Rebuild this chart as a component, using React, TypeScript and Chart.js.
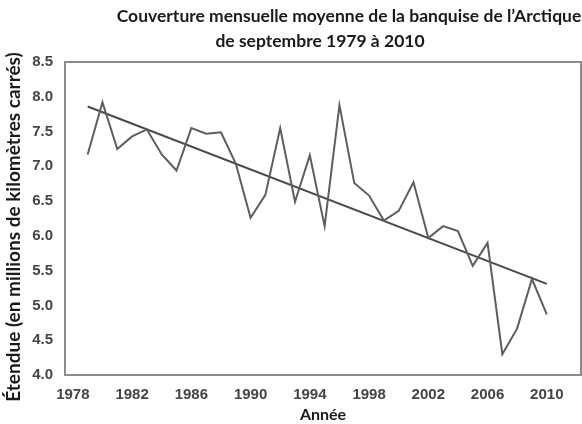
import React, { useEffect, useRef } from "react";
import { Chart, registerables } from "chart.js";

Chart.register(...registerables);

const years = [
  1979, 1980, 1981, 1982, 1983, 1984, 1985, 1986, 1987, 1988, 1989, 1990, 1991, 1992, 1993, 1994,
  1995, 1996, 1997, 1998, 1999, 2000, 2001, 2002, 2003, 2004, 2005, 2006, 2007, 2008, 2009, 2010,
];
const extent = [
  7.17, 7.92, 7.25, 7.43, 7.53, 7.17, 6.94, 7.55, 7.47, 7.49, 7.04, 6.26, 6.59, 7.55, 6.49, 7.16,
  6.14, 7.88, 6.76, 6.58, 6.22, 6.36, 6.77, 5.97, 6.14, 6.07, 5.57, 5.9, 4.3, 4.67, 5.38, 4.87,
];
const trendYears = [1979, 2010];
const trendValues = [7.86, 5.31];
const xTicks = [1978, 1982, 1986, 1990, 1994, 1998, 2002, 2006, 2010];
const yTicks = [4.0, 4.5, 5.0, 5.5, 6.0, 6.5, 7.0, 7.5, 8.0, 8.5];
const titleLines = ["Couverture mensuelle moyenne de la banquise de l\u2019Arctique", "de septembre 1979 \u00e0 2010"];
const xTitle = "Ann\u00e9e";
const yTitle = "\u00c9tendue (en millions de kilom\u00e8tres carr\u00e9s)";

const frameAndTitle = {
  id: "frameAndTitle",
  afterDraw(chart: any) {
    const { ctx, chartArea } = chart;
    ctx.save();
    ctx.strokeStyle = "#8c8c8c";
    ctx.lineWidth = 2;
    ctx.strokeRect(chartArea.left, chartArea.top, chartArea.right - chartArea.left, chartArea.bottom - chartArea.top);
    ctx.fillStyle = "#1a1a1a";
    ctx.font = "bold 17.5px Lato";
    ctx.textAlign = "center";
    ctx.textBaseline = "middle";
    ctx.fillText(titleLines[0], 349, 16);
    ctx.fillText(titleLines[1], 320, 41);
    // vertical axis title
    ctx.font = "bold 19px Lato";
    ctx.translate(14, 227);
    ctx.rotate(-Math.PI / 2);
    ctx.fillText(yTitle, 0, 0);
    ctx.restore();
  },
};

export default function App() {
  const ref = useRef<HTMLCanvasElement>(null);
  useEffect(() => {
    document.body.style.margin = "0";
    const chart = new Chart(ref.current!, {
      type: "line",
      data: {
        datasets: [
          {
            data: years.map((y, i) => ({ x: y, y: extent[i] })),
            borderColor: "#5e5e5e",
            borderWidth: 2,
            pointRadius: 0,
            tension: 0,
          },
          {
            data: trendYears.map((y, i) => ({ x: y, y: trendValues[i] })),
            borderColor: "#4a4a4a",
            borderWidth: 2,
            pointRadius: 0,
          },
        ],
      },
      options: {
        responsive: false,
        animation: false,
        layout: { padding: { top: 62, right: 1, left: 0, bottom: 0 } },
        plugins: { legend: { display: false }, tooltip: { enabled: false }, title: { display: false } },
        scales: {
          x: {
            type: "linear",
            min: 1977.47,
            max: 2012.31,
            grid: { display: false, drawTicks: false, tickLength: 0 },
            border: { display: false },
            afterBuildTicks: (s: any) => {
              s.ticks = xTicks.map((v) => ({ value: v }));
            },
            afterFit: (s: any) => {
              s.height = 49;
            },
            ticks: {
              padding: 11,
              color: "#444",
              font: { family: "Liberation Sans", size: 15, weight: "bold" },
              callback: (v: any) => String(v),
              maxRotation: 0,
              autoSkip: false,
            },
            title: {
              display: true,
              text: xTitle,
              color: "#1a1a1a",
              font: { family: "Lato", size: 16, weight: "bold" },
              padding: { top: 0, bottom: 0 },
            },
          },
          y: {
            min: 4,
            max: 8.5,
            grid: { display: false, drawTicks: false, tickLength: 0 },
            border: { display: false },
            afterBuildTicks: (s: any) => {
              s.ticks = yTicks.map((v) => ({ value: v }));
            },
            afterFit: (s: any) => {
              s.width = 65;
            },
            ticks: {
              padding: 12,
              color: "#444",
              font: { family: "Liberation Sans", size: 15, weight: "bold" },
              callback: (v: any) => Number(v).toFixed(1),
              autoSkip: false,
            },
            title: { display: false },
          },
        },
      },
      plugins: [frameAndTitle],
    });
    return () => chart.destroy();
  }, []);
  return (
    <div style={{ width: 582, height: 424 }}>
      <canvas ref={ref} width={582} height={424} />
    </div>
  );
}
